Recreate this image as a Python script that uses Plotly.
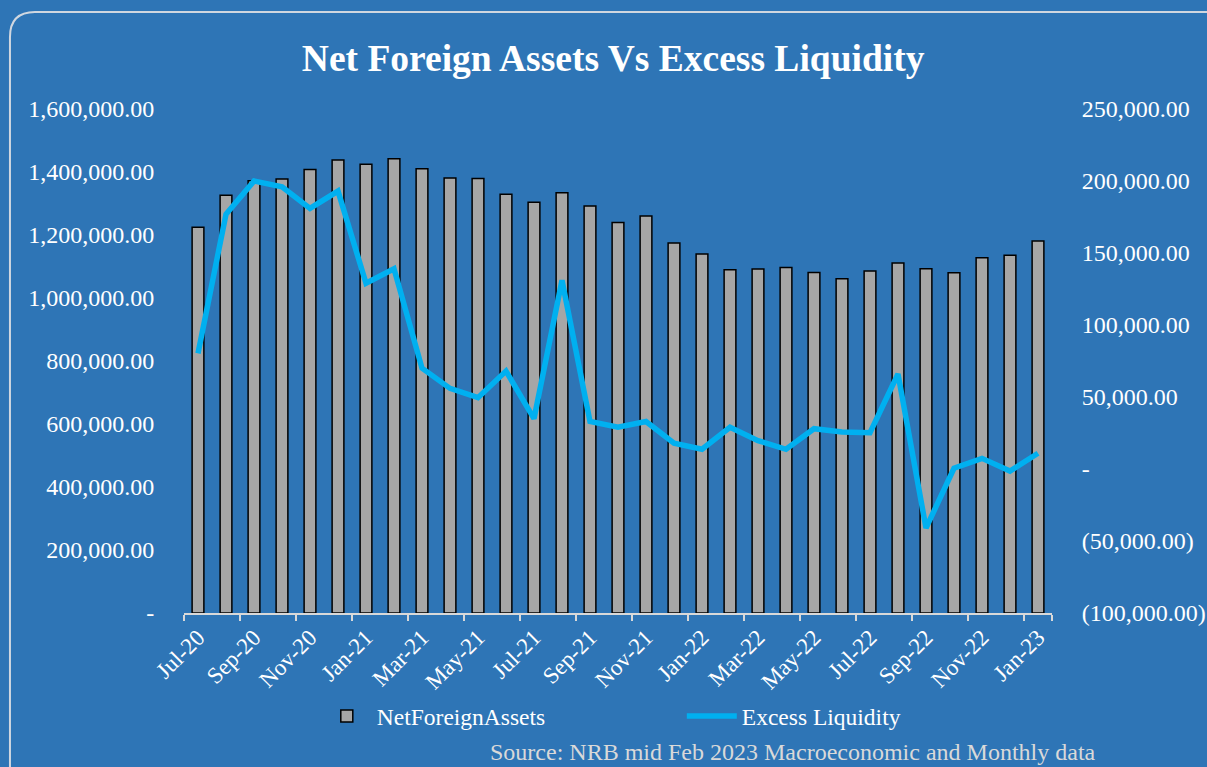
import plotly.graph_objects as go

months = ["Jul-20","Aug-20","Sep-20","Oct-20","Nov-20","Dec-20","Jan-21","Feb-21","Mar-21","Apr-21",
          "May-21","Jun-21","Jul-21","Aug-21","Sep-21","Oct-21","Nov-21","Dec-21","Jan-22","Feb-22",
          "Mar-22","Apr-22","May-22","Jun-22","Jul-22","Aug-22","Sep-22","Oct-22","Nov-22","Dec-22","Jan-23"]

net_foreign_assets = [1225000,1326000,1372000,1378000,1408000,1438000,1425000,1442000,1410000,1381000,
                      1379000,1329000,1304000,1334000,1292000,1240000,1260000,1175000,1140000,1090000,
                      1092000,1097000,1081000,1061000,1086000,1111000,1093000,1080000,1128000,1136000,1181000]

excess_liquidity = [80300,177000,200000,196000,181000,193000,129000,139000,70000,56000,
                    49500,68000,35000,131000,33000,29000,33000,18000,13700,29000,
                    19700,13700,28000,25700,25200,66000,-41000,500,7400,-1400,10900]

left_ticks = [0,200000,400000,600000,800000,1000000,1200000,1400000,1600000]
left_text = ["-","200,000.00","400,000.00","600,000.00","800,000.00","1,000,000.00",
             "1,200,000.00","1,400,000.00","1,600,000.00"]
right_ticks = [-100000,-50000,0,50000,100000,150000,200000,250000]
right_text = ["(100,000.00)","(50,000.00)","-","50,000.00","100,000.00","150,000.00",
              "200,000.00","250,000.00"]

BG = "#2E75B6"
FONT = "Liberation Serif, Times New Roman, serif"

fig = go.Figure()
fig.add_trace(go.Bar(
    x=months, y=net_foreign_assets, name="NetForeignAssets",
    marker=dict(color="#A6A6A6", line=dict(color="black", width=1.5)),
    width=0.42, yaxis="y"))
fig.add_trace(go.Scatter(
    x=months, y=excess_liquidity, name="Excess Liquidity", mode="lines",
    line=dict(color="#00B0F0", width=5.5), yaxis="y2"))

fig.update_layout(
    width=1207, height=767,
    paper_bgcolor=BG, plot_bgcolor=BG,
    margin=dict(l=184, r=155, t=109, b=154, autoexpand=False),
    font=dict(family=FONT, color="white", size=23),
    title=dict(text="<b>Net Foreign Assets Vs Excess Liquidity</b>", x=0.508, xanchor="center",
               y=0.925, yanchor="middle", font=dict(size=37.5, color="white", family=FONT)),
    xaxis=dict(type="category", tickmode="array", tickvals=months[::2], ticktext=months[::2],
               tickangle=-45, tickson="boundaries", ticks="outside", ticklen=6, tickwidth=1.5,
               tickcolor="#D9D9D9", showline=True, linecolor="#D9D9D9", linewidth=2,
               showgrid=False, tickfont=dict(size=23, color="white"),
               range=[-0.5, 30.5], automargin=False),
    yaxis=dict(range=[0, 1600000], tickvals=left_ticks, ticktext=left_text, showgrid=False,
               zeroline=False, showline=False, ticks="outside", ticklen=24,
               tickcolor="rgba(0,0,0,0)", tickfont=dict(size=24, color="white"), automargin=False),
    yaxis2=dict(range=[-100000, 250000], tickvals=right_ticks, ticktext=right_text,
                overlaying="y", side="right", showgrid=False, zeroline=False, showline=False,
                ticks="outside", ticklen=24, tickcolor="rgba(0,0,0,0)",
                tickfont=dict(size=24, color="white"), automargin=False),
    legend=dict(orientation="h", x=0.153, xanchor="left", y=-0.205, yanchor="middle",
                font=dict(size=23.5, color="white", family=FONT), entrywidth=300,
                bgcolor="rgba(0,0,0,0)", itemwidth=50),
    showlegend=True,
)

# rounded chart border
rx, ry = 25/868, 25/504
x0, y1 = -0.2005, 1.1925
xr, yb = 1.19, -0.32
fig.add_shape(type="path", xref="paper", yref="paper",
              path=f"M {x0},{yb} L {x0},{y1-ry} Q {x0},{y1} {x0+rx},{y1} L {xr},{y1}",
              line=dict(color="#D0D7E0", width=2))

fig.add_annotation(text="Source: NRB mid Feb 2023 Macroeconomic and Monthly data",
                   xref="paper", yref="paper", x=(1098-184)/868, y=(613-752)/504,
                   xanchor="right", yanchor="middle", showarrow=False,
                   font=dict(size=24, color="#D9D9D9", family=FONT))

fig.write_html("out.html", config={"displayModeBar": False},
               post_script="document.body.style.margin='0';document.body.style.overflow='hidden';document.body.style.background='" + BG + "';")
